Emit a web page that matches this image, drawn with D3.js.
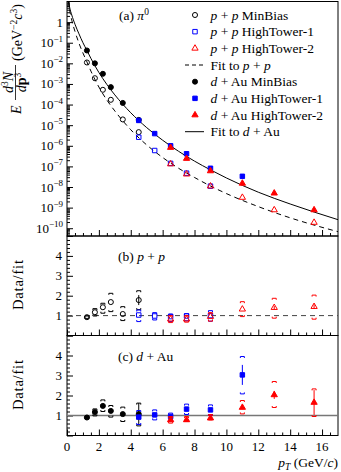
<!DOCTYPE html>
<html>
<head>
<meta charset="utf-8">
<script src="https://cdn.jsdelivr.net/npm/d3@7"></script>
<style>
  body { margin: 0; background: #fff; }
  svg { display: block; font-family: "Liberation Serif", "DejaVu Serif", serif; }
</style>
</head>
<body>
<div id="chart"></div>
<script>
// ---- spectra (panel a) ----
const ppMB_pt = [1.25, 1.75, 2.25, 2.75, 3.5, 4.5];
const ppMB_y = [1.1e-2, 1.9e-3, 5.2e-4, 1.7e-4, 1.9e-5, 4.6e-6];
const ppHT1_pt = [4.5, 5.5, 6.5, 7.5, 9];
const ppHT1_y = [2.6e-6, 5.9e-7, 1.4e-7, 4.7e-8, 1.1e-8];
const ppHT2_pt = [6.5, 7.5, 9, 11, 13, 15.5];
const ppHT2_y = [1.3e-7, 4.2e-8, 1.1e-8, 3.1e-9, 7.7e-10, 1.9e-10];
const dAuMB_pt = [1.25, 1.75, 2.25, 2.75, 3.5, 4.5];
const dAuMB_y = [4.2e-2, 1.0e-2, 3.1e-3, 7.0e-4, 1.2e-4, 1.8e-5];
const dAuHT1_pt = [4.5, 5.5, 6.5, 7.5, 9, 11];
const dAuHT1_y = [1.7e-5, 3.9e-6, 1.0e-6, 4.1e-7, 8.1e-8, 3.3e-8];
const dAuHT2_pt = [6.5, 7.5, 9, 11, 13, 15.5];
const dAuHT2_y = [8.2e-7, 2.4e-7, 6.0e-8, 1.5e-8, 5.0e-9, 7.7e-10];

// fit curves
const fitDAu_pt = [0.08, 0.15, 0.3, 0.5, 0.75, 1, 1.25, 1.5, 2, 2.5, 3, 4, 5, 6, 7, 8, 9, 10, 12, 14, 17];
const fitDAu_y = [14.1, 6.0, 2.2, 0.79, 0.27, 0.1, 0.042, 0.0174, 3.6e-3, 9.5e-4, 2.95e-4, 4.0e-5, 7.6e-6,
  1.86e-6, 5.4e-7, 1.8e-7, 6.8e-8, 2.75e-8, 5.6e-9, 1.5e-9, 2.6e-10];
const fitPP_pt = [0.08, 0.15, 0.3, 0.5, 0.75, 1, 1.25, 1.5, 2, 2.5, 3, 4, 5, 6, 7, 8, 9, 10, 12, 14, 17];
const fitPP_y = [11.2, 4.6, 1.23, 0.355, 0.095, 0.0316, 0.0117, 4.2e-3, 7.1e-4, 1.66e-4, 4.9e-5, 6.0e-6,
  1.1e-6, 2.7e-7, 8.1e-8, 2.9e-8, 1.12e-8, 4.8e-9, 1.12e-9, 3.2e-10, 6.8e-11];

// ---- ratios to fit (panels b, c) ----
const ppMB_r = [0.92, 1.17, 1.42, 1.68, 1.08, 1.78];
const ppMB_stat = [0.03, 0.04, 0.05, 0.06, 0.06, 0.25];
const ppMB_lo = [0.86, 0.98, 1.12, 1.2, 0.75, 1.3];
const ppMB_hi = [0.98, 1.35, 1.62, 2.12, 1.45, 2.25];
const ppHT1_r = [1.03, 0.98, 0.95, 0.98, 1.0];
const ppHT1_stat = [0.04, 0.03, 0.03, 0.03, 0.04];
const ppHT1_lo = [0.7, 0.78, 0.7, 0.74, 0.72];
const ppHT1_hi = [1.28, 1.15, 1.08, 1.1, 1.25];
const ppHT2_r = [0.82, 0.82, 0.95, 1.32, 1.4, 1.45];
const ppHT2_stat = [0.03, 0.03, 0.03, 0.05, 0.08, 0.12];
const ppHT2_lo = [0.65, 0.67, 0.72, 0.95, 0.87, 0.82];
const ppHT2_hi = [1.0, 1.0, 1.15, 1.7, 1.87, 2.03];

const dAuMB_r = [0.9, 1.17, 1.48, 1.23, 1.07, 1.07];
const dAuMB_stat = [0.02, 0.04, 0.05, 0.05, 0.08, 0.55];
const dAuMB_lo = [0.84, 0.98, 1.2, 0.92, 0.7, 0.48];
const dAuMB_hi = [0.96, 1.33, 1.78, 1.5, 1.42, 1.62];
const dAuHT1_r = [0.92, 1.03, 0.95, 1.32, 1.28, 3.03];
const dAuHT1_stat = [0.05, 0.03, 0.03, 0.04, 0.05, 0.5];
const dAuHT1_lo = [0.55, 0.78, 0.72, 1.05, 1.0, 2.08];
const dAuHT1_hi = [1.25, 1.28, 1.12, 1.57, 1.53, 3.95];
const dAuHT2_r = [0.78, 0.78, 0.87, 1.4, 2.03, 1.65];
const dAuHT2_stat = [0.03, 0.03, 0.04, 0.08, 0.2, 0.62];
const dAuHT2_lo = [0.62, 0.7, 0.78, 1.08, 1.4, 0.95];
const dAuHT2_hi = [0.95, 0.95, 1.05, 1.75, 2.7, 2.33];

const xTicks = [0, 2, 4, 6, 8, 10, 12, 14, 16];
const ratioTicks = [1, 2, 3, 4];
const decadeExps = [0, -1, -2, -3, -4, -5, -6, -7, -8, -9, -10];

const width = 341;
const height = 472;
const blue = "#0000ff";
const red = "#ff0000";

const svg = d3.select("#chart").append("svg")
  .attr("width", width).attr("height", height)
  .attr("viewBox", `0 0 ${width} ${height}`);

const x = d3.scaleLinear().domain([0, 17]).range([67, 338]);
const yA = d3.scaleLog().domain([4.2e-11, 10]).range([236, 1.5]);
const yB = d3.scaleLinear().domain([0, 5]).range([335.5, 236]);
const yC = d3.scaleLinear().domain([0, 5]).range([435.5, 335.5]);

const zip = (pt, v) => pt.map((p, i) => ({ pt: p, v: v[i] }));
const zipR = (pt, r, s, lo, hi) => pt.map((p, i) => ({ pt: p, v: r[i], s: s[i], lo: lo[i], hi: hi[i] }));

function symbolFor(kind) {
  if (kind === "circle") return d3.symbol().type(d3.symbolCircle).size(20);
  if (kind === "square") return d3.symbol().type(d3.symbolSquare).size(20);
  return d3.symbol().type(d3.symbolTriangle).size(17);
}

function drawMarkers(g, data, y, kind, color, filled) {
  g.append("g").selectAll("path").data(data).join("path")
    .attr("transform", (d) => `translate(${x(d.pt)},${y(d.v)})`)
    .attr("d", symbolFor(kind)())
    .attr("fill", filled ? color : "none")
    .attr("stroke", color)
    .attr("stroke-width", 1);
}

function drawRatio(g, data, y, kind, color, filled) {
  const e = g.append("g").attr("stroke", color).attr("fill", "none").attr("stroke-width", 1);
  e.selectAll("line.stat").data(data.filter((d) => d.s > 0.06)).join("line")
    .attr("x1", (d) => x(d.pt)).attr("x2", (d) => x(d.pt))
    .attr("y1", (d) => y(d.v - d.s)).attr("y2", (d) => y(d.v + d.s));
  e.selectAll("path.hi").data(data).join("path")
    .attr("d", (d) => { const cx = x(d.pt), cy = y(d.hi); return `M${cx - 2},${cy + 1.5}V${cy}H${cx + 2}V${cy + 1.5}`; });
  e.selectAll("path.lo").data(data).join("path")
    .attr("d", (d) => { const cx = x(d.pt), cy = y(d.lo); return `M${cx - 2},${cy - 1.5}V${cy}H${cx + 2}V${cy - 1.5}`; });
  drawMarkers(g, data, y, kind, color, filled);
}

// frames and ticks
function panelAxes(bottom, top) {
  svg.append("rect").attr("x", x(0)).attr("y", top).attr("width", x(17) - x(0)).attr("height", bottom - top)
    .attr("fill", "none").attr("stroke", "#000").attr("stroke-width", 1);
  const gx = svg.append("g").attr("transform", `translate(0,${bottom})`);
  gx.call(d3.axisBottom(x).tickValues(xTicks).tickSize(-6).tickFormat(""));
  gx.call((s) => s.select(".domain").remove());
  const gxm = svg.append("g").attr("transform", `translate(0,${bottom})`);
  gxm.call(d3.axisBottom(x).tickValues(d3.range(0.5, 17, 0.5).filter((v) => v % 2 !== 0)).tickSize(-3).tickFormat(""));
  gxm.call((s) => s.select(".domain").remove());
}

panelAxes(236, 1.5);
panelAxes(335.5, 236);
panelAxes(435.5, 335.5);

// panel a y axis (log)
const decades = decadeExps.map((e) => Math.pow(10, e));
const minorLog = [];
decadeExps.concat([-11]).forEach((e) => {
  for (let k = 2; k <= 9; k++) {
    const v = k * Math.pow(10, e);
    if (v >= 4.2e-11 && v <= 10) minorLog.push(v);
  }
});
svg.append("g").attr("transform", `translate(${x(0)},0)`)
  .call(d3.axisLeft(yA).tickValues(decades).tickSize(-6).tickFormat(""))
  .call((s) => s.select(".domain").remove());
svg.append("g").attr("transform", `translate(${x(0)},0)`)
  .call(d3.axisLeft(yA).tickValues(minorLog).tickSize(-3).tickFormat(""))
  .call((s) => s.select(".domain").remove());

const labA = svg.append("g").attr("font-size", 13).attr("text-anchor", "end");
decadeExps.forEach((e) => {
  const t = labA.append("text").attr("x", 63).attr("y", yA(Math.pow(10, e)) + 4.5);
  if (e === 0) {
    t.text("1");
  } else {
    t.append("tspan").text("10");
    t.append("tspan").attr("dy", -5.5).attr("font-size", 9).text(`\u2212${-e}`);
  }
});

// ratio y axes
[yB, yC].forEach((y) => {
  svg.append("g").attr("transform", `translate(${x(0)},0)`)
    .call(d3.axisLeft(y).tickValues([0, 1, 2, 3, 4, 5]).tickSize(-6).tickFormat(""))
    .call((s) => s.select(".domain").remove());
  svg.append("g").attr("transform", `translate(${x(0)},0)`)
    .call(d3.axisLeft(y).tickValues(d3.range(0.2, 5, 0.2).filter((v) => Math.abs(v - Math.round(v)) > 0.01)).tickSize(-3).tickFormat(""))
    .call((s) => s.select(".domain").remove());
  svg.append("g").attr("font-size", 13).attr("text-anchor", "end")
    .selectAll("text").data(ratioTicks).join("text")
    .attr("x", 62).attr("y", (d) => y(d) + 4.5).text((d) => d);
});

// x tick labels
svg.append("g").attr("font-size", 13).attr("text-anchor", "middle")
  .selectAll("text").data(xTicks).join("text")
  .attr("x", (d) => x(d)).attr("y", 450.5).text((d) => d);

// fits in panel a
svg.append("clipPath").attr("id", "clipA").append("rect")
  .attr("x", x(0)).attr("y", 1.5).attr("width", x(17) - x(0)).attr("height", 234.5);
const line = d3.line().x((d) => x(d.pt)).y((d) => yA(d.v)).curve(d3.curveMonotoneX);
const gA = svg.append("g").attr("clip-path", "url(#clipA)");
gA.append("path").datum(zip(fitPP_pt, fitPP_y)).attr("d", line)
  .attr("fill", "none").attr("stroke", "#000").attr("stroke-width", 1).attr("stroke-dasharray", "5,4");
gA.append("path").datum(zip(fitDAu_pt, fitDAu_y)).attr("d", line)
  .attr("fill", "none").attr("stroke", "#000").attr("stroke-width", 1);

drawMarkers(gA, zip(ppMB_pt, ppMB_y), yA, "circle", "#000", false);
drawMarkers(gA, zip(ppHT1_pt, ppHT1_y), yA, "square", blue, false);
drawMarkers(gA, zip(ppHT2_pt, ppHT2_y), yA, "triangle", red, false);
drawMarkers(gA, zip(dAuMB_pt, dAuMB_y), yA, "circle", "#000", true);
drawMarkers(gA, zip(dAuHT1_pt, dAuHT1_y), yA, "square", blue, true);
drawMarkers(gA, zip(dAuHT2_pt, dAuHT2_y), yA, "triangle", red, true);

// reference lines at 1
svg.append("line").attr("x1", x(0)).attr("x2", x(17)).attr("y1", yB(1)).attr("y2", yB(1))
  .attr("stroke", "#444").attr("stroke-width", 1).attr("stroke-dasharray", "5,4");
svg.append("line").attr("x1", x(0)).attr("x2", x(17)).attr("y1", yC(1)).attr("y2", yC(1))
  .attr("stroke", "#777").attr("stroke-width", 1.5);

const gB = svg.append("g");
drawRatio(gB, zipR(ppMB_pt, ppMB_r, ppMB_stat, ppMB_lo, ppMB_hi), yB, "circle", "#000", false);
drawRatio(gB, zipR(ppHT1_pt, ppHT1_r, ppHT1_stat, ppHT1_lo, ppHT1_hi), yB, "square", blue, false);
drawRatio(gB, zipR(ppHT2_pt, ppHT2_r, ppHT2_stat, ppHT2_lo, ppHT2_hi), yB, "triangle", red, false);

const gC = svg.append("g");
drawRatio(gC, zipR(dAuMB_pt, dAuMB_r, dAuMB_stat, dAuMB_lo, dAuMB_hi), yC, "circle", "#000", true);
drawRatio(gC, zipR(dAuHT1_pt, dAuHT1_r, dAuHT1_stat, dAuHT1_lo, dAuHT1_hi), yC, "square", blue, true);
drawRatio(gC, zipR(dAuHT2_pt, dAuHT2_r, dAuHT2_stat, dAuHT2_lo, dAuHT2_hi), yC, "triangle", red, true);

// text helper: parts are [text, style]
function rich(t, parts) {
  parts.forEach(([s, st]) => {
    const ts = t.append("tspan").text(s);
    if (st === "i") ts.attr("font-style", "italic");
    if (st === "sup") ts.attr("font-size", "0.7em").attr("dy", -5);
  });
  return t;
}

// legend
const legend = [
  { kind: "circle", color: "#000", filled: false, parts: [["p", "i"], [" + "], ["p", "i"], [" MinBias"]] },
  { kind: "square", color: blue, filled: false, parts: [["p", "i"], [" + "], ["p", "i"], [" HighTower-1"]] },
  { kind: "triangle", color: red, filled: false, parts: [["p", "i"], [" + "], ["p", "i"], [" HighTower-2"]] },
  { kind: "dash", parts: [["Fit to "], ["p", "i"], [" + "], ["p", "i"]] },
  { kind: "circle", color: "#000", filled: true, parts: [["d", "i"], [" + Au MinBias"]] },
  { kind: "square", color: blue, filled: true, parts: [["d", "i"], [" + Au HighTower-1"]] },
  { kind: "triangle", color: red, filled: true, parts: [["d", "i"], [" + Au HighTower-2"]] },
  { kind: "solid", parts: [["Fit to "], ["d", "i"], [" + Au"]] },
];
const gL = svg.append("g").attr("font-size", 13.5);
legend.forEach((it, i) => {
  const cy = 15 + i * 16.67;
  if (it.kind === "dash" || it.kind === "solid") {
    gL.append("line").attr("x1", 185).attr("x2", 204).attr("y1", cy).attr("y2", cy)
      .attr("stroke", "#000").attr("stroke-width", 1)
      .attr("stroke-dasharray", it.kind === "dash" ? "4,3" : null);
  } else {
    gL.append("path").attr("transform", `translate(195,${cy})`).attr("d", symbolFor(it.kind)())
      .attr("fill", it.filled ? it.color : "none").attr("stroke", it.color);
  }
  rich(gL.append("text").attr("x", 210.5).attr("y", cy + 4.5), it.parts);
});

// panel labels
const gT = svg.append("g").attr("font-size", 13.5);
rich(gT.append("text").attr("x", 119).attr("y", 20), [["(a)  "], ["\u03c0", "i"], ["0", "sup"]]);
rich(gT.append("text").attr("x", 118).attr("y", 260.5), [["(b)  "], ["p", "i"], [" + "], ["p", "i"]]);
rich(gT.append("text").attr("x", 118).attr("y", 361), [["(c)  "], ["d", "i"], [" + Au"]]);

// axis titles
const pt = svg.append("text").attr("x", 338).attr("y", 466.5).attr("font-size", 13.5).attr("text-anchor", "end");
pt.append("tspan").attr("font-style", "italic").text("p");
pt.append("tspan").attr("font-style", "italic").attr("font-size", 9.5).attr("dy", 3).text("T");
pt.append("tspan").attr("dy", -3).text(" (GeV/");
pt.append("tspan").attr("font-style", "italic").text("c");
pt.append("tspan").text(")");

[285, 385].forEach((cy) => {
  svg.append("text").attr("transform", `translate(23,${cy}) rotate(-90)`)
    .attr("text-anchor", "middle").attr("font-size", 14.5)
    .attr("textLength", 50).attr("lengthAdjust", "spacing").text("Data/fit");
});

const gY = svg.append("g").attr("transform", "rotate(-90)").attr("font-size", 14);
gY.append("text").attr("x", -114).attr("y", 20.5).attr("font-style", "italic").text("E");
const num = gY.append("text").attr("x", -82.5).attr("y", 13).attr("text-anchor", "middle");
num.append("tspan").attr("font-style", "italic").text("d");
num.append("tspan").attr("font-size", 9.5).attr("dy", -5).text("3");
num.append("tspan").attr("font-style", "italic").attr("dy", 5).text("N");
gY.append("line").attr("x1", -100).attr("x2", -65).attr("y1", 15.5).attr("y2", 15.5)
  .attr("stroke", "#000").attr("stroke-width", 0.8);
const den = gY.append("text").attr("x", -82.5).attr("y", 25.5).attr("text-anchor", "middle");
den.append("tspan").attr("font-style", "italic").text("d");
den.append("tspan").attr("font-weight", "bold").text("p");
den.append("tspan").attr("font-size", 9.5).attr("dy", -5).text("3");
const unit = gY.append("text").attr("x", -61).attr("y", 21.5);
unit.append("tspan").text("(GeV");
unit.append("tspan").attr("font-size", 9.5).attr("dy", -5).text("\u22122");
unit.append("tspan").attr("font-style", "italic").attr("dy", 5).text("c");
unit.append("tspan").attr("font-size", 9.5).attr("dy", -5).text("3");
unit.append("tspan").attr("dy", 5).text(")");
</script>
</body>
</html>
